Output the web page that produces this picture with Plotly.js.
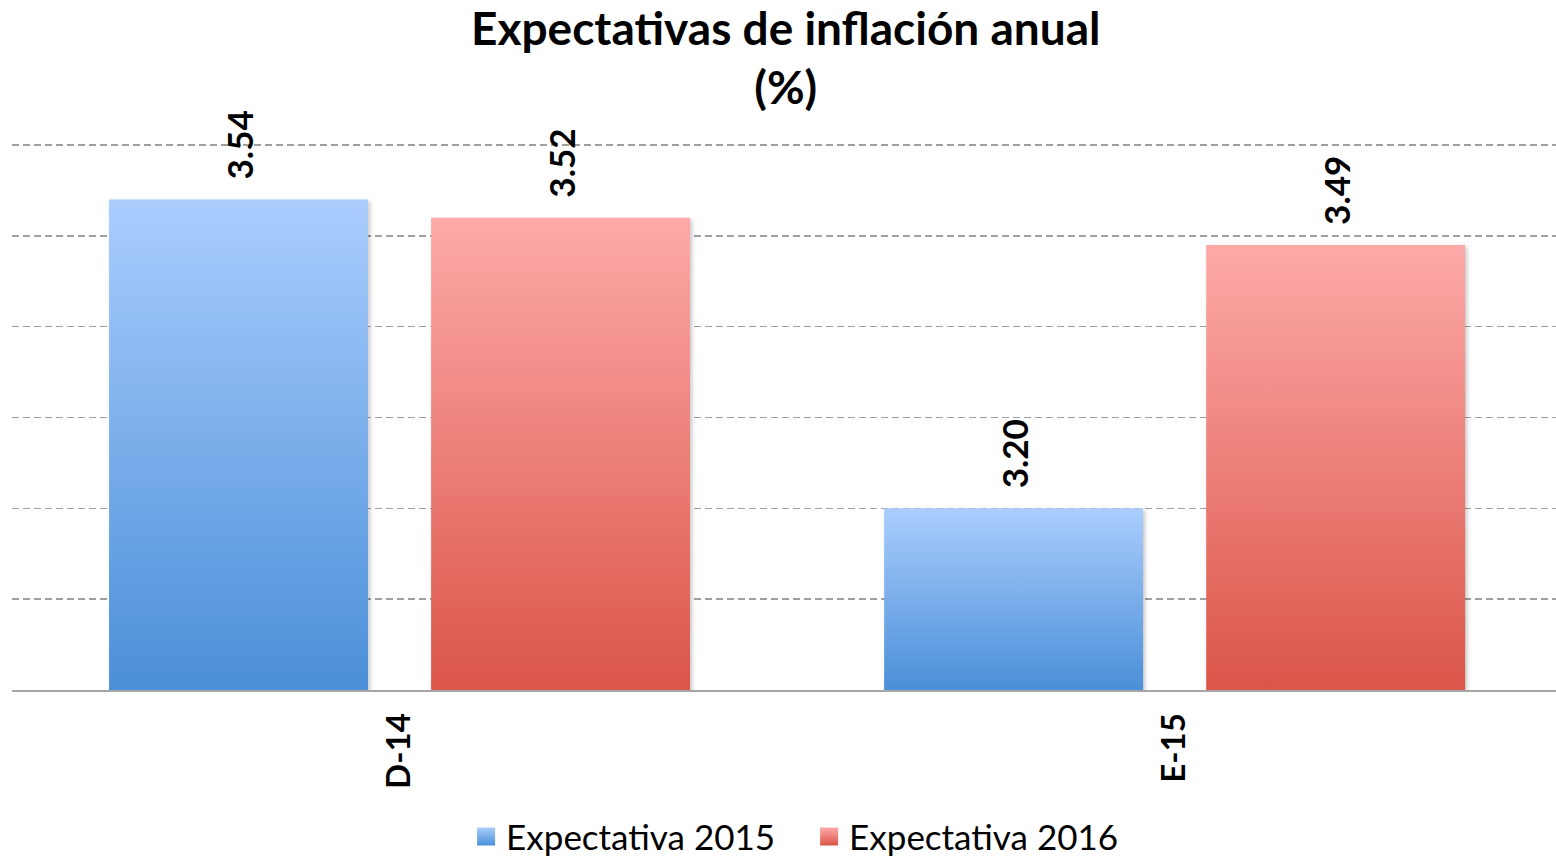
<!DOCTYPE html>
<html>
<head>
<meta charset="utf-8">
<script src="https://cdn.plot.ly/plotly-3.0.1.min.js"></script>
<style>html,body{margin:0;padding:0;background:#fff;}#chart{width:1556px;height:859px;}</style>
</head>
<body>
<div id="chart"></div>
<script>
const categories = ["D-14", "E-15"];
const seriesNames = ["Expectativa 2015", "Expectativa 2016"];
const values2015 = [3.54, 3.20];
const values2016 = [3.52, 3.49];

const FONT = "Lato, 'Open Sans', sans-serif";
const NB = "\u00a0\u00a0";

function barTrace(name, vals, color) {
  return {
    type: "bar", name: name, x: categories, y: vals,
    marker: {color: color, line: {width: 0}},
    text: vals.map(v => NB + v.toFixed(2)),
    textposition: "outside", textangle: -90, cliponaxis: false, constraintext: "none",
    textfont: {family: FONT, size: 35, color: "#000", weight: "bold"},
    hoverinfo: "skip"
  };
}

const data = [
  barTrace(seriesNames[0], values2015, "#7aaee9"),
  barTrace(seriesNames[1], values2016, "#ec7f79")
];

const layout = {
  width: 1556, height: 859,
  margin: {l: 12, r: 0, t: 140, b: 169},
  paper_bgcolor: "#fff", plot_bgcolor: "#fff",
  font: {family: FONT, color: "#000"},
  title: {
    text: "<b>Expectativas de inflación anual</b><br><b>(%)</b>",
    font: {family: FONT, size: 46, color: "#000"},
    x: 0.505, xanchor: "center", y: 0.948, yanchor: "top", yref: "container"
  },
  barmode: "group", bargap: 0.169, bargroupgap: 0.196,
  xaxis: {
    type: "category", range: [-0.5, 1.492],
    showgrid: false, showline: true, linecolor: "#a6a6a6", linewidth: 2,
    ticks: "outside", ticklen: 8, tickcolor: "rgba(0,0,0,0)",
    tickangle: -90,
    tickfont: {family: FONT, size: 33, color: "#000", weight: "bold"}
  },
  yaxis: {
    range: [3.0, 3.6055], dtick: 0.1, tick0: 3.0,
    showticklabels: false, showgrid: true, gridcolor: "#a0a0a0", gridwidth: 1.6,
    griddash: "7px,4px", zeroline: false, showline: false, ticks: ""
  },
  showlegend: true,
  legend: {
    orientation: "h", x: 0.52, xanchor: "center", xref: "container",
    y: 0.026, yanchor: "middle", yref: "container",
    font: {family: FONT, size: 35, color: "#000"},
    itemwidth: 30, entrywidth: 298, bgcolor: "rgba(0,0,0,0)"
  }
};

Plotly.newPlot("chart", data, layout, {displayModeBar: false, staticPlot: true}).then(function (gd) {
  const svg = gd.querySelector("svg.main-svg");
  const ns = "http://www.w3.org/2000/svg";
  let defs = svg.querySelector("defs");
  if (!defs) { defs = document.createElementNS(ns, "defs"); svg.insertBefore(defs, svg.firstChild); }
  const plotH = gd._fullLayout.yaxis._length;
  let n = 0;
  function grad(top, bottom, y1, y2, units) {
    const id = "g" + (n++);
    const g = document.createElementNS(ns, "linearGradient");
    g.setAttribute("id", id);
    if (units) {
      g.setAttribute("gradientUnits", "userSpaceOnUse");
      g.setAttribute("x1", "0"); g.setAttribute("x2", "0");
      g.setAttribute("y1", y1); g.setAttribute("y2", y2);
    } else {
      g.setAttribute("x1", "0"); g.setAttribute("y1", "0");
      g.setAttribute("x2", "0"); g.setAttribute("y2", "1");
    }
    [[0, top], [1, bottom]].forEach(function (s) {
      const st = document.createElementNS(ns, "stop");
      st.setAttribute("offset", s[0]);
      st.setAttribute("stop-color", s[1]);
      g.appendChild(st);
    });
    defs.appendChild(g);
    return id;
  }
  const cols = [["#aacdfd", "#4a8fd8"], ["#fdaaa8", "#db5548"]];
  gd.querySelectorAll(".barlayer .trace.bars").forEach(function (tr, i) {
    tr.querySelectorAll(".point path").forEach(function (p) {
      const bb = p.getBBox();
      const id = grad(cols[i][0], cols[i][1], bb.y, Math.min(plotH, bb.y + bb.height), true);
      p.style.fill = "url(#" + id + ")";
      p.style.filter = "drop-shadow(2px 2px 2px rgba(0,0,0,0.22))";
    });
  });
  gd.querySelectorAll(".legend .traces").forEach(function (tr, i) {
    const id = grad(cols[i][0], cols[i][1], 0, 1, false);
    tr.querySelectorAll(".legendpoints path").forEach(function (p) {
      p.setAttribute("d", "M9,9H-9V-9H9Z");
      p.style.fill = "url(#" + id + ")";
    });
  });
});
</script>
</body>
</html>
